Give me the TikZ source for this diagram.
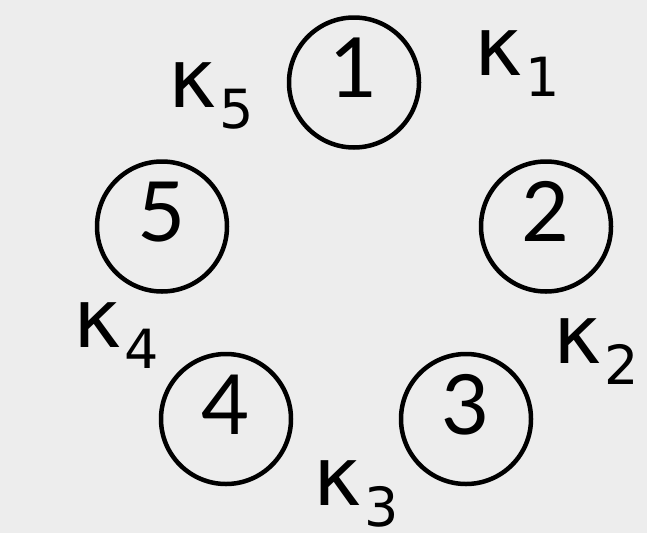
\documentclass[tikz,border=0pt]{standalone}
\usepackage{fontspec}
\setmainfont{Lato}
\newfontfamily\kapfont{DejaVu Sans}
\definecolor{bg}{RGB}{237,237,237}
% kappa with its index
\newcommand{\kapl}[1]{{\kapfont\fontsize{82}{82}\selectfont κ\kern3pt\raisebox{-21pt}{\fontsize{54}{54}\selectfont #1}}}

\begin{document}
\begin{tikzpicture}[x=1pt,y=-1pt,
  ring/.style={draw,circle,line width=4.5pt,minimum size=130pt,inner sep=0pt,
    text height=60pt,text depth=30pt,font=\fontsize{83}{83}\selectfont},
  kap/.style={anchor=base west,inner sep=0pt}]
\fill[bg] (0,0) rectangle (647,533);

\node[ring] (c1) at (354,82.5) {1};
\node[ring] (c2) at (546,226.5) {2};
\node[ring] (c3) at (466,419) {3};
\node[ring] (c4) at (226,419) {4};
\node[ring] (c5) at (162,226.5) {5};

\node[kap] (k1) at (474,75) {\kapl{1}};
\node[kap] (k2) at (553,363) {\kapl{2}};
\node[kap] (k3) at (313,505) {\kapl{3}};
\node[kap] (k4) at (73,347) {\kapl{4}};
\node[kap] (k5) at (168,107) {\kapl{5}};
\end{tikzpicture}
\end{document}
